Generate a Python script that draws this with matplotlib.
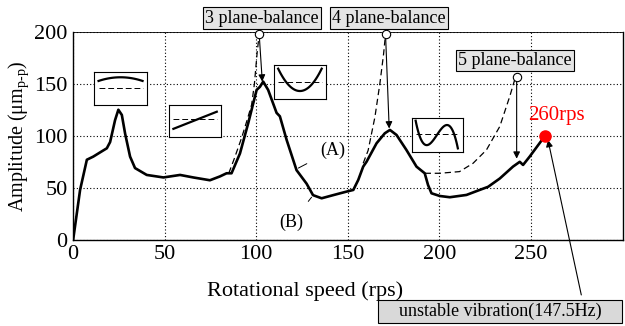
import numpy as np
import matplotlib
matplotlib.use("Agg")
import matplotlib.pyplot as plt

plt.rcParams["font.family"] = "Liberation Serif"
plt.rcParams["mathtext.fontset"] = "custom"
plt.rcParams["mathtext.rm"] = "Liberation Serif"
plt.rcParams["mathtext.it"] = "Liberation Serif:italic"

# measured run-up curve (solid)
speed = [0, 3.8, 7.5, 11, 15.6, 18.4, 20.2, 22.9, 24.7, 26.6, 28.4, 31.1, 33.8,
         40.2, 49.3, 58.4, 65.6, 74.7, 80.2, 83.8, 86.5, 91.1, 95.6, 100.2, 102,
         103.8, 106.5, 111.1, 112.9, 116.6, 122, 127.5, 131, 135.7, 142, 149.3,
         153, 155.7, 158.4, 160.2, 165.7, 170.2, 173, 176.6, 182, 187.5, 192,
         193.8, 195.7, 200.2, 205.7, 214.8, 222, 226.6, 233, 240.2, 243.9,
         245.7, 249.3, 257.5]
amp = [0, 48, 77, 80, 85, 88, 94, 115, 125, 120, 102, 80, 69,
       62.4, 60, 62.4, 60, 57.3, 61, 64, 64, 83, 112, 144, 147,
       152, 144, 122, 118.7, 96, 67, 54, 43, 40, 43, 46.4,
       48, 57.6, 70.4, 75, 92.8, 102.4, 105.6, 100.8, 86.4, 70.4, 64,
       52.8, 44.8, 42.2, 41, 43.2, 48, 51, 59, 70.4, 75,
       72, 80, 99.5]

# curves before each balancing step (dashed)
speed_3p = [85, 88, 92, 95, 97.5, 99, 100.5, 101.6]
amp_3p = [64, 78, 98, 115, 130, 150, 180, 197.5]
speed_4p = [158.4, 161.1, 164.8, 167.5, 169.5, 170.6]
amp_4p = [73.6, 86, 118, 150, 178, 197.5]
speed_5p = [192, 200.2, 211, 218.4, 225.7, 233, 238.4, 241.1, 242.2]
amp_5p = [64, 64, 65.6, 73.6, 86.4, 109, 137.6, 153.6, 156]

balance_labels = ["3 plane-balance", "4 plane-balance", "5 plane-balance"]
balance_from = [(101.6, 197.5), (170.6, 197.5), (242.2, 156)]
balance_to = [(103.3, 152), (172.6, 107), (242.2, 78)]
label_pos = [(103.1, 213), (172.4, 213), (241.1, 172)]

fig, ax = plt.subplots(figsize=(6.25, 3.26), dpi=100)
fig.subplots_adjust(left=0.117, right=0.996, bottom=0.264, top=0.903)

ax.plot(speed, amp, color="black", lw=1.9, zorder=3)
for xs, ys in [(speed_3p, amp_3p), (speed_4p, amp_4p), (speed_5p, amp_5p)]:
    ax.plot(xs, ys, color="black", lw=0.9, ls=(0, (5, 3)), zorder=3)

for lab, p0, p1, lp in zip(balance_labels, balance_from, balance_to, label_pos):
    ax.annotate("", xy=p1, xytext=p0,
                arrowprops=dict(arrowstyle="-|>", color="black", lw=0.8,
                                mutation_scale=10, shrinkA=3, shrinkB=0), zorder=4)
    ax.plot(*p0, "o", ms=6, mfc="white", mec="black", mew=0.8, zorder=5, clip_on=False)
    ax.text(*lp, lab, ha="center", va="center", fontsize=13, clip_on=False,
            bbox=dict(boxstyle="square,pad=0.12", fc="#e4e4e4", ec="black", lw=0.8))

# 260 rps point
ax.plot(257.5, 99.5, "o", color="red", ms=8, zorder=6, clip_on=False)
ax.text(263.8, 119, "260rps", color="red", ha="center", va="center", fontsize=15)

ax.annotate("", xy=(259.3, 96), xytext=(277.5, -52.8),
            arrowprops=dict(arrowstyle="-|>", color="black", lw=0.8,
                            mutation_scale=10, shrinkA=0, shrinkB=0),
            annotation_clip=False, zorder=4)
ax.text(233.2, -68.5, "    unstable vibration(147.5Hz)    ", ha="center", va="center",
        fontsize=13, clip_on=False,
        bbox=dict(boxstyle="square,pad=0.15", fc="#d9d9d9", ec="black", lw=0.8))

# (A) and (B) curve labels
ax.annotate("(A)", xy=(123, 69), xytext=(142, 86.4), ha="center", va="center", fontsize=13,
            arrowprops=dict(arrowstyle="-", color="black", lw=0.7, shrinkA=9, shrinkB=0))
ax.annotate("(B)", xy=(130.2, 41), xytext=(119.3, 16.6), ha="center", va="center", fontsize=13,
            arrowprops=dict(arrowstyle="-", color="black", lw=0.7, shrinkA=9, shrinkB=0))

# mode shape icons
icon_boxes = [(11.6, 129.6, 28.6, 32), (52.5, 98.6, 28.2, 31),
              (109.7, 135.5, 28.3, 32.5), (184.8, 84.7, 28.1, 32)]
icon_pts = [([0.08, 0.5, 0.92], [0.72, 0.83, 0.72]),
            ([0.08, 0.92], [0.26, 0.79]),
            ([0.08, 0.5, 0.92], [0.89, 0.23, 0.89]),
            ([0.08, 0.35, 0.68, 0.9], [0.93, 0.23, 0.8, 0.1])]
icon_base = [0.5, 0.55, 0.51, 0.52]
for box, (px, py), base in zip(icon_boxes, icon_pts, icon_base):
    ia = ax.inset_axes(box, transform=ax.transData, zorder=7)
    ia.set_xlim(0, 1)
    ia.set_ylim(0, 1)
    ia.set_xticks([])
    ia.set_yticks([])
    for s in ia.spines.values():
        s.set_linewidth(0.8)
    coef = np.polyfit(px, py, len(px) - 1)
    xx = np.linspace(px[0], px[-1], 60)
    ia.plot(xx, np.polyval(coef, xx), color="black", lw=1.6)
    ia.plot([0.08, 0.92], [base, base], color="black", lw=0.7, ls=(0, (6, 3)))

ax.set_xlim(0, 300)
ax.set_ylim(0, 200)
ax.set_xticks([0, 50, 100, 150, 200, 250])
ax.set_yticks([0, 50, 100, 150, 200])
ax.tick_params(labelsize=16, length=0, pad=4)
ax.grid(True, color="black", ls=(0, (1, 2)), lw=0.8)
for s in ax.spines.values():
    s.set_linewidth(1.0)
ax.spines["top"].set_linewidth(0.6)

ax.set_xlabel("Rotational speed (rps)", fontsize=16)
ax.xaxis.set_label_coords(0.422, -0.2)
ax.set_ylabel(r"Amplitude (μm$_{\mathrm{p\text{-}p}}$)", fontsize=14.5)
ax.yaxis.set_label_coords(-0.077, 0.5)

plt.savefig("out.png", dpi=100)
